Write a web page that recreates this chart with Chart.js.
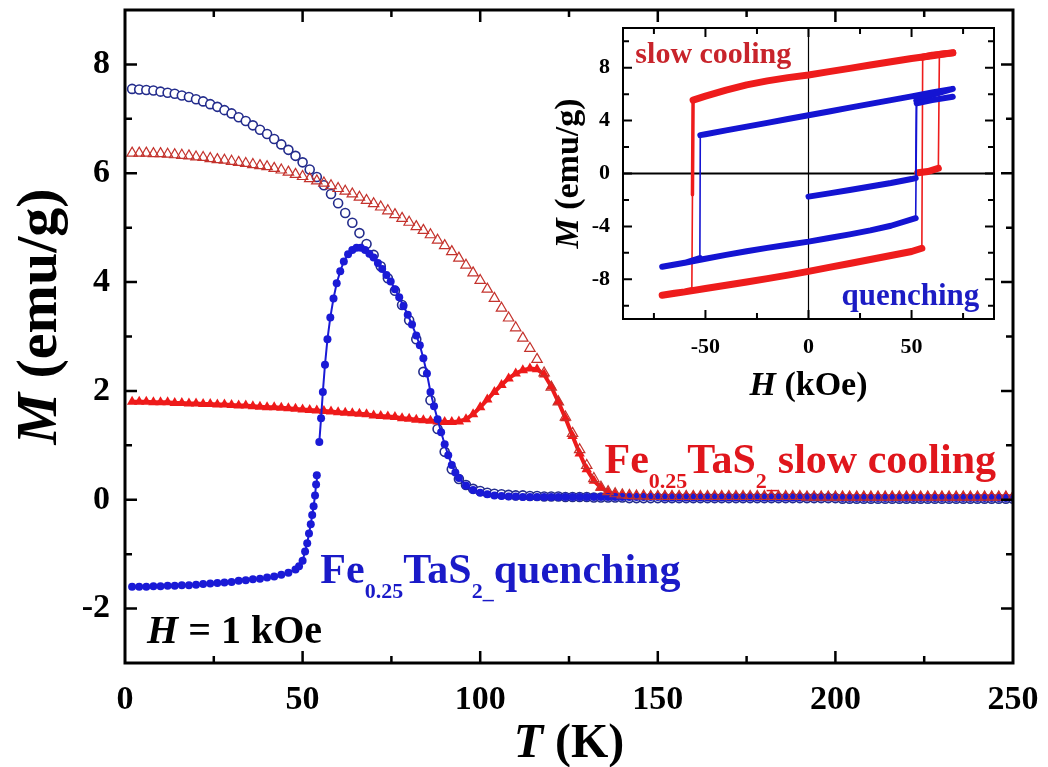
<!DOCTYPE html>
<html>
<head>
<meta charset="utf-8">
<script src="https://cdn.jsdelivr.net/npm/chart.js@4.4.0/dist/chart.umd.min.js"></script>
<style>
  html, body { margin: 0; padding: 0; background: #fff; }
  #wrap { position: relative; width: 1048px; height: 767px; }
  #mainChart { position: absolute; left: 0; top: 0; }
  #insetChart { position: absolute; left: 530px; top: 18px; }
</style>
</head>
<body>
<div id="wrap">
  <canvas id="mainChart" width="1048" height="767"></canvas>
  <canvas id="insetChart" width="470" height="392"></canvas>
</div>
<script>
// temperature grid (K) shared by three of the M(T) curves
const tempK = [
  2, 4, 6, 8, 10, 12, 14, 16, 18, 20,
  22, 24, 26, 28, 30, 32, 34, 36, 38, 40,
  42, 44, 46, 48, 50, 52, 54, 56, 58, 60,
  62, 64, 66, 68, 70, 72, 74, 76, 78, 80,
  82, 84, 86, 88, 90, 92, 94, 96, 98, 100,
  102, 104, 106, 108, 110, 112, 114, 116, 118, 120,
  122, 124, 126, 128, 130, 132, 134, 136, 138, 140,
  142, 144, 146, 148, 150, 152, 154, 156, 158, 160,
  162, 164, 166, 168, 170, 172, 174, 176, 178, 180,
  182, 184, 186, 188, 190, 192, 194, 196, 198, 200,
  202, 204, 206, 208, 210, 212, 214, 216, 218, 220,
  222, 224, 226, 228, 230, 232, 234, 236, 238, 240,
  242, 244, 246, 248, 250
];

// quenching, open circles (emu/g)
const quenchFcM = [
  7.55, 7.54, 7.53, 7.52, 7.50, 7.48, 7.46, 7.43, 7.40, 7.36,
  7.32, 7.27, 7.22, 7.16, 7.10, 7.03, 6.96, 6.88, 6.80, 6.72,
  6.63, 6.53, 6.43, 6.32, 6.20, 6.07, 5.93, 5.78, 5.62, 5.45,
  5.27, 5.09, 4.90, 4.70, 4.50, 4.29, 4.07, 3.84, 3.58, 3.30,
  2.95, 2.35, 1.83, 1.30, 0.88, 0.56, 0.38, 0.27, 0.20, 0.16,
  0.13, 0.11, 0.10, 0.09, 0.08, 0.08, 0.07, 0.07, 0.06, 0.06,
  0.06, 0.05, 0.05, 0.05, 0.05, 0.04, 0.04, 0.04, 0.04, 0.04,
  0.03, 0.03, 0.03, 0.03, 0.03, 0.03, 0.03, 0.03, 0.03, 0.03,
  0.03, 0.03, 0.03, 0.03, 0.03, 0.03, 0.03, 0.03, 0.03, 0.03,
  0.03, 0.03, 0.03, 0.03, 0.03, 0.03, 0.03, 0.03, 0.03, 0.03,
  0.02, 0.02, 0.02, 0.02, 0.02, 0.02, 0.02, 0.02, 0.02, 0.02,
  0.02, 0.02, 0.02, 0.02, 0.02, 0.02, 0.02, 0.02, 0.02, 0.02,
  0.02, 0.02, 0.02, 0.02, 0.02
];

// slow cooling, open triangles
const slowFcM = [
  6.37, 6.37, 6.37, 6.36, 6.36, 6.35, 6.34, 6.33, 6.32, 6.30,
  6.29, 6.27, 6.25, 6.24, 6.22, 6.20, 6.18, 6.16, 6.14, 6.12,
  6.09, 6.06, 6.02, 5.98, 5.94, 5.90, 5.86, 5.82, 5.77, 5.72,
  5.67, 5.62, 5.56, 5.50, 5.44, 5.38, 5.31, 5.24, 5.17, 5.10,
  5.02, 4.95, 4.87, 4.77, 4.67, 4.56, 4.44, 4.31, 4.17, 4.03,
  3.87, 3.70, 3.52, 3.34, 3.16, 2.97, 2.78, 2.58, 2.33, 2.07,
  1.80, 1.52, 1.22, 0.92, 0.63, 0.39, 0.23, 0.15, 0.11, 0.09,
  0.08, 0.07, 0.07, 0.06, 0.06, 0.06, 0.06, 0.06, 0.06, 0.06,
  0.06, 0.06, 0.06, 0.06, 0.06, 0.06, 0.06, 0.06, 0.06, 0.06,
  0.06, 0.06, 0.06, 0.06, 0.06, 0.05, 0.05, 0.05, 0.05, 0.05,
  0.05, 0.05, 0.05, 0.05, 0.05, 0.05, 0.05, 0.05, 0.05, 0.05,
  0.05, 0.05, 0.05, 0.05, 0.05, 0.05, 0.05, 0.05, 0.05, 0.05,
  0.05, 0.05, 0.05, 0.05, 0.05
];

// slow cooling, filled triangles
const slowZfcM = [
  1.80, 1.80, 1.80, 1.79, 1.79, 1.79, 1.78, 1.78, 1.77, 1.77,
  1.76, 1.76, 1.75, 1.75, 1.74, 1.73, 1.73, 1.72, 1.71, 1.70,
  1.70, 1.69, 1.68, 1.67, 1.66, 1.65, 1.64, 1.63, 1.62, 1.61,
  1.60, 1.59, 1.58, 1.57, 1.55, 1.54, 1.53, 1.52, 1.50, 1.49,
  1.47, 1.46, 1.45, 1.44, 1.43, 1.43, 1.44, 1.48, 1.57, 1.70,
  1.84, 1.98, 2.11, 2.23, 2.32, 2.38, 2.41, 2.40, 2.30, 2.08,
  1.80, 1.50, 1.17, 0.85, 0.56, 0.35, 0.22, 0.14, 0.10, 0.08,
  0.07, 0.07, 0.07, 0.07, 0.07, 0.07, 0.07, 0.07, 0.07, 0.07,
  0.06, 0.06, 0.06, 0.06, 0.06, 0.06, 0.06, 0.06, 0.06, 0.06,
  0.06, 0.06, 0.06, 0.06, 0.06, 0.06, 0.06, 0.06, 0.06, 0.06,
  0.06, 0.06, 0.06, 0.06, 0.06, 0.06, 0.06, 0.06, 0.06, 0.06,
  0.06, 0.06, 0.06, 0.06, 0.06, 0.06, 0.06, 0.06, 0.06, 0.06,
  0.06, 0.06, 0.06, 0.06, 0.06
];

// quenching, filled circles (own temperature points, denser at the jump)
const quenchZfcT = [
  2, 4, 6, 8, 10, 12, 14, 16, 18, 20, 22, 24, 26, 28, 30, 32, 34, 36, 38, 40, 42, 44, 46, 48,
  49, 50, 50.7, 51.3, 51.8, 52.3, 52.7, 53.1, 53.5, 53.8,
  54.0, 54.3, 54.7, 55.2, 55.7, 56.3, 57.0, 57.8, 58.7, 59.6,
  60.6, 61.6, 62.8, 64.0, 65.2, 66.4, 67.6, 68.8, 70.0, 71.2,
  72.4, 73.6, 74.8, 76.0, 77.2, 78.4, 79.6, 80.8, 82, 83,
  84, 85, 86, 87, 88, 89, 90, 91, 92, 93,
  94, 96, 98, 100, 102, 104, 106, 108, 110
].concat(tempK.slice(55));
const quenchZfcM = [
  -1.60, -1.60, -1.60, -1.59, -1.59, -1.58, -1.58, -1.57, -1.57, -1.56, -1.55, -1.54,
  -1.53, -1.52, -1.51, -1.49, -1.48, -1.46, -1.45, -1.43, -1.41, -1.38, -1.34, -1.28,
  -1.22, -1.12, -0.95, -0.80, -0.62, -0.45, -0.28, -0.12, 0.08, 0.28,
  0.45, null, 1.06, 1.50, 1.98, 2.48, 2.95, 3.35, 3.70, 3.98,
  4.20, 4.38, 4.51, 4.59, 4.63, 4.63, 4.59, 4.52, 4.45, 4.35,
  4.24, 4.13, 4.01, 3.87, 3.72, 3.56, 3.40, 3.22, 3.02, 2.84,
  2.60, 2.32, 1.98, 1.72, 1.48, 1.24, 1.02, 0.82, 0.64, 0.50,
  0.40, 0.26, 0.18, 0.13, 0.10, 0.08, 0.07, 0.06, 0.06,
  0.05, 0.05, 0.05, 0.05, 0.05, 0.05, 0.05, 0.05, 0.05, 0.05,
  0.05, 0.05, 0.05, 0.05, 0.05, 0.05, 0.05, 0.05, 0.05, 0.05,
  0.04, 0.04, 0.04, 0.04, 0.04, 0.04, 0.04, 0.04, 0.04, 0.04,
  0.04, 0.04, 0.04, 0.04, 0.04, 0.04, 0.04, 0.04, 0.04, 0.04,
  0.04, 0.04, 0.04, 0.04, 0.04,
  0.03, 0.03, 0.03, 0.03, 0.03, 0.03, 0.03, 0.03, 0.03, 0.03,
  0.03, 0.03, 0.03, 0.03, 0.03, 0.03, 0.03, 0.03, 0.03, 0.03,
  0.03, 0.03, 0.03, 0.03, 0.03
];

// inset: M(H) loops, in measurement order
const slowLoopH = [53, 58, 63, 63.5, 66, 70, 60, 50, 40, 30, 20, 10, 0, -10, -20, -30, -40, -50, -56, -56.3, -56.6,
  -60, -65, -71, -60, -50, -40, -30, -20, -10, 0, 10, 20, 30, 40, 50, 55, 55.4, 60, 70];
const slowLoopM = [0.05, 0.15, 0.4, 9.0, 9.05, 9.12, 8.9, 8.7, 8.45, 8.2, 7.95, 7.7, 7.45, 7.25, 7.0, 6.7, 6.3, 5.85, 5.55, -1.6, -8.85,
  -8.95, -9.05, -9.2, -8.95, -8.7, -8.45, -8.2, -7.95, -7.68, -7.4, -7.1, -6.8, -6.5, -6.2, -5.9, -5.65, 8.8, 8.95, 9.12];
const quenchLoopH = [0, 10, 20, 30, 40, 50, 52, 52.3, 60, 70, 60, 50, 40, 30, 20, 10, 0, -10, -20, -30, -40, -50, -52.5, -52.7,
  -60, -71, -60, -50, -40, -30, -20, -10, 0, 10, 20, 30, 40, 52, 52.5, 60, 70];
const quenchLoopM = [-1.75, -1.5, -1.25, -0.98, -0.72, -0.42, -0.35, 5.5, 5.95, 6.4, 6.12, 5.83, 5.55, 5.26, 4.98, 4.69, 4.4, 4.12, 3.83, 3.54, 3.26, 2.97, 2.9, -6.4,
  -6.75, -7.05, -6.75, -6.45, -6.15, -5.88, -5.62, -5.38, -5.15, -4.88, -4.6, -4.3, -3.95, -3.38, 5.3, 5.55, 5.8];

const FONT = '"Liberation Serif", "Times New Roman", serif';
const pts = (xs, ys) => xs.map((x, i) => ({ x: x, y: ys[i] }));

// writes a row of text pieces: plain, 'sub' (subscript) or 'it' (italic)
function richText(ctx, x, y, parts, size, color, align) {
  const fontFor = k => (k === 'it' ? 'italic ' : '') + 'bold ' + (k === 'sub' ? Math.round(size * 0.53) : size) + 'px ' + FONT;
  let w = 0;
  parts.forEach(([t, k]) => { ctx.font = fontFor(k); w += ctx.measureText(t).width; });
  let cx = align === 'center' ? x - w / 2 : x;
  ctx.fillStyle = color;
  ctx.textAlign = 'left';
  ctx.textBaseline = 'alphabetic';
  parts.forEach(([t, k]) => {
    ctx.font = fontFor(k);
    ctx.fillText(t, cx, y + (k === 'sub' ? size * 0.36 : 0));
    cx += ctx.measureText(t).width;
  });
}

// box around the plot with inward ticks on all four sides
const frameTicks = {
  id: 'frameTicks',
  afterDatasetsDraw(chart, args, o) {
    const { ctx, chartArea: a } = chart;
    const xs = chart.scales.x, ys = chart.scales.y;
    const ticksFor = (s, step) => {
      const out = [];
      for (let v = Math.ceil(s.min / step) * step; v <= s.max + 1e-9; v += step) {
        if (v > s.min + 1e-9 && v < s.max - 1e-9) out.push(v);
      }
      return out;
    };
    const isMajor = (v, m) => Math.abs(v / m - Math.round(v / m)) < 1e-6;
    ctx.save();
    ctx.strokeStyle = '#000';
    ctx.lineWidth = o.tickWidth;
    ctx.beginPath();
    ticksFor(xs, o.xMinor).forEach(v => {
      const p = xs.getPixelForValue(v), len = isMajor(v, o.xMajor) ? o.major : o.minor;
      ctx.moveTo(p, a.bottom); ctx.lineTo(p, a.bottom - len);
      ctx.moveTo(p, a.top); ctx.lineTo(p, a.top + len);
    });
    ticksFor(ys, o.yMinor).forEach(v => {
      const p = ys.getPixelForValue(v), len = isMajor(v, o.yMajor) ? o.major : o.minor;
      ctx.moveTo(a.left, p); ctx.lineTo(a.left + len, p);
      ctx.moveTo(a.right, p); ctx.lineTo(a.right - len, p);
    });
    ctx.stroke();
    ctx.lineWidth = o.frameWidth;
    ctx.strokeRect(a.left, a.top, a.right - a.left, a.bottom - a.top);
    ctx.restore();
  }
};

// axis titles and notes
const labels = {
  id: 'labels',
  afterDraw(chart, args, o) {
    const { ctx, chartArea: a } = chart;
    const xs = chart.scales.x, ys = chart.scales.y;
    ctx.save();
    (o.notes || []).forEach(n => {
      richText(ctx, xs.getPixelForValue(n.at[0]), ys.getPixelForValue(n.at[1]), n.parts, n.size, n.color, 'left');
    });
    richText(ctx, (a.left + a.right) / 2, o.xTitle.baseline, o.xTitle.parts, o.xTitle.size, '#000', 'center');
    ctx.translate(o.yTitle.cx, (a.top + a.bottom) / 2 + o.yTitle.dy);
    ctx.rotate(-Math.PI / 2);
    richText(ctx, 0, o.yTitle.size * 0.33, o.yTitle.parts, o.yTitle.size, '#000', 'center');
    ctx.restore();
  }
};

// zero lines of the inset
const zeroLines = {
  id: 'zeroLines',
  beforeDatasetsDraw(chart) {
    const { ctx, chartArea: a } = chart;
    const x0 = chart.scales.x.getPixelForValue(0), y0 = chart.scales.y.getPixelForValue(0);
    ctx.save();
    ctx.strokeStyle = '#000';
    ctx.lineWidth = 2;
    ctx.beginPath(); ctx.moveTo(a.left, y0); ctx.lineTo(a.right, y0); ctx.stroke();
    ctx.lineWidth = 1.2;
    ctx.beginPath(); ctx.moveTo(x0, a.top); ctx.lineTo(x0, a.bottom); ctx.stroke();
    ctx.restore();
  }
};

const tickFont = size => ({ family: FONT, weight: 'bold', size: size });
// fixed axis sizes, no extra room for half labels at the ends
const fixX = h => s => { s.height = h; s.paddingLeft = 0; s.paddingRight = 0; };
const fixY = w => s => { s.width = w; s.paddingTop = 0; s.paddingBottom = 0; };

// main panel
new Chart(document.getElementById('mainChart'), {
  type: 'line',
  data: {
    datasets: [{
      label: 'slow cooling, open',
      data: pts(tempK, slowFcM),
      showLine: false,
      pointStyle: 'triangle',
      pointRadius: 6,
      pointBorderWidth: 1.2,
      pointBorderColor: '#c4322c',
      pointBackgroundColor: 'rgba(0,0,0,0)'
    }, {
      label: 'quenching, filled',
      data: pts(quenchZfcT, quenchZfcM),
      borderColor: '#1a1ad6',
      borderWidth: 2,
      pointRadius: 4,
      pointBorderWidth: 0,
      pointBackgroundColor: '#1a1ad6'
    }, {
      label: 'slow cooling, filled',
      data: pts(tempK, slowZfcM),
      borderColor: '#ee1a1a',
      borderWidth: 4,
      pointStyle: 'triangle',
      pointRadius: 6,
      pointBorderWidth: 0,
      pointBackgroundColor: '#ee1a1a'
    }, {
      label: 'quenching, open',
      data: pts(tempK, quenchFcM),
      showLine: false,
      pointRadius: 4.5,
      pointBorderWidth: 1.6,
      pointBorderColor: '#232c8c',
      pointBackgroundColor: '#fff'
    }]
  },
  options: {
    responsive: false,
    animation: false,
    events: [],
    layout: { padding: { left: 0, top: 10, right: 35, bottom: 0 } },
    scales: {
      x: {
        type: 'linear', min: 0, max: 250,
        grid: { display: false, drawTicks: false },
        border: { display: false },
        ticks: { stepSize: 50, padding: 17, color: '#000', font: tickFont(34), maxRotation: 0, autoSkip: false },
        afterFit: fixX(104)
      },
      y: {
        type: 'linear', min: -3, max: 9,
        grid: { display: false, drawTicks: false },
        border: { display: false },
        ticks: { stepSize: 1, padding: 15, color: '#000', font: tickFont(34), autoSkip: false,
          callback: v => (v % 2 === 0 ? String(v) : '') },
        afterFit: fixY(125)
      }
    },
    plugins: {
      legend: { display: false },
      tooltip: { enabled: false },
      frameTicks: { frameWidth: 3, tickWidth: 2.5, major: 12, minor: 7, xMinor: 25, xMajor: 50, yMinor: 1, yMajor: 2 },
      labels: {
        xTitle: { parts: [['T', 'it'], [' (K)']], size: 48, baseline: 757 },
        yTitle: { parts: [['M', 'it'], [' (emu/g)']], size: 58, cx: 37, dy: -20 },
        notes: [
          { at: [135, 0.5], size: 42, color: '#e0161c',
            parts: [['Fe'], ['0.25', 'sub'], ['TaS'], ['2_', 'sub'], ['slow cooling']] },
          { at: [55, -1.53], size: 42, color: '#1a1ac8',
            parts: [['Fe'], ['0.25', 'sub'], ['TaS'], ['2_', 'sub'], ['quenching']] },
          { at: [6.2, -2.63], size: 40, color: '#000',
            parts: [['H', 'it'], [' = 1 kOe']] }
        ]
      }
    }
  },
  plugins: [frameTicks, labels]
});

// field jumps: thin line for the big ones, medium for the short one, thick band elsewhere
const loopWidth = (thick, jump) => ctx => {
  const dx = Math.abs(ctx.p1.parsed.x - ctx.p0.parsed.x);
  const dy = Math.abs(ctx.p1.parsed.y - ctx.p0.parsed.y);
  if (dx >= 1) return thick;
  return dy > jump ? 1.6 : 3.5;
};

// inset panel
new Chart(document.getElementById('insetChart'), {
  type: 'line',
  data: {
    datasets: [{
      label: 'quenching loop',
      data: pts(quenchLoopH, quenchLoopM),
      borderColor: '#1414d2',
      borderWidth: 6,
      borderCapStyle: 'round',
      borderJoinStyle: 'round',
      pointRadius: 0,
      segment: { borderWidth: loopWidth(6, 3) }
    }, {
      label: 'slow cooling loop',
      data: pts(slowLoopH, slowLoopM),
      borderColor: '#ee1c1c',
      borderWidth: 7,
      borderCapStyle: 'round',
      borderJoinStyle: 'round',
      pointRadius: 0,
      segment: { borderWidth: loopWidth(7, 7.2) }
    }]
  },
  options: {
    responsive: false,
    animation: false,
    events: [],
    layout: { padding: { left: 0, top: 10, right: 6, bottom: 0 } },
    scales: {
      x: {
        type: 'linear', min: -90, max: 90,
        grid: { display: false, drawTicks: false },
        border: { display: false },
        ticks: { stepSize: 5, padding: 15, color: '#000', font: tickFont(22), maxRotation: 0, autoSkip: false,
          callback: v => (Math.round(v) % 50 === 0 ? String(Math.round(v)) : '') },
        afterFit: fixX(91)
      },
      y: {
        type: 'linear', min: -11, max: 11,
        grid: { display: false, drawTicks: false },
        border: { display: false },
        ticks: { stepSize: 1, padding: 13, color: '#000', font: tickFont(22), autoSkip: false,
          callback: v => (Math.round(v) % 4 === 0 ? String(Math.round(v)) : '') },
        afterFit: fixY(93)
      }
    },
    plugins: {
      legend: { display: false },
      tooltip: { enabled: false },
      frameTicks: { frameWidth: 2, tickWidth: 2, major: 9, minor: 6, xMinor: 25, xMajor: 50, yMinor: 2, yMajor: 4 },
      labels: {
        xTitle: { parts: [['H', 'it'], [' (kOe)']], size: 34, baseline: 377 },
        yTitle: { parts: [['M', 'it'], [' (emu/g)']], size: 34, cx: 37, dy: 0 },
        notes: [
          { at: [-84, 8.35], size: 30, color: '#c8242b', parts: [['slow cooling']] },
          { at: [16, -9.95], size: 31, color: '#1c1cc4', parts: [['quenching']] }
        ]
      }
    }
  },
  plugins: [zeroLines, frameTicks, labels]
});
</script>
</body>
</html>
